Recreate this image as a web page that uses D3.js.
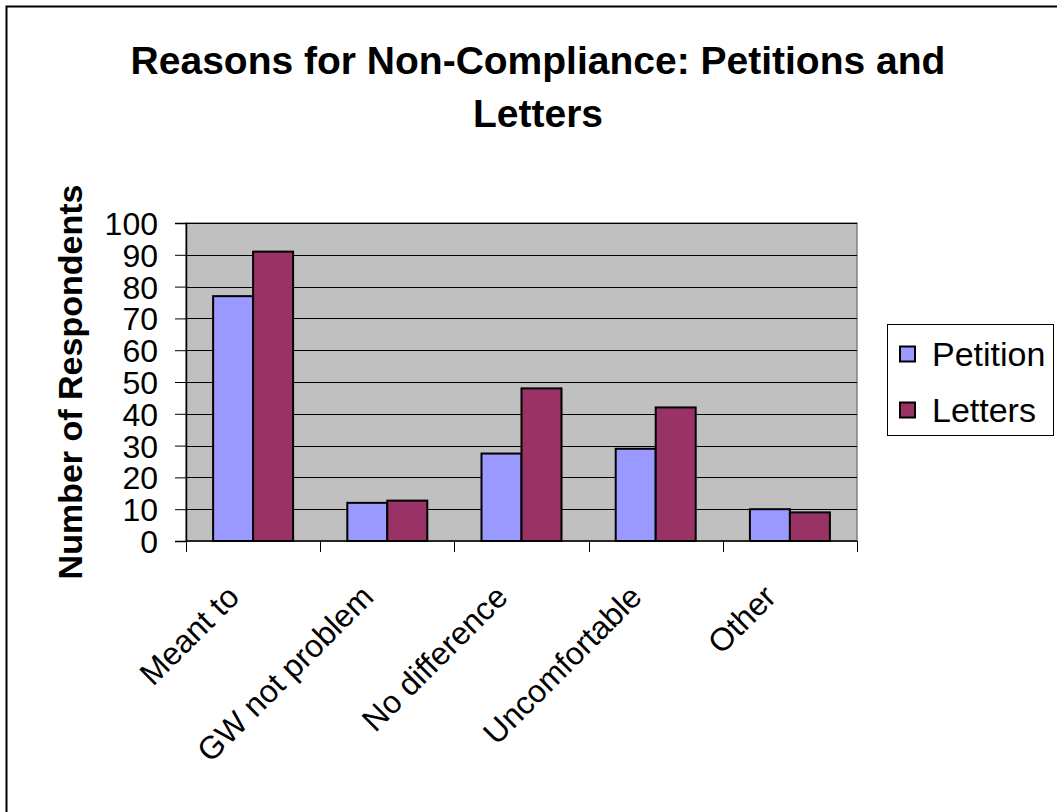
<!DOCTYPE html>
<html lang="en">
<head>
  <meta charset="UTF-8" />
  <title>Reasons for Non-Compliance</title>
  <script src="https://d3js.org/d3.v7.min.js"></script>
  <style>
    body {
      margin: 0;
      background: #fff;
      font-family: 'Liberation Sans', Arial, sans-serif;
    }
    svg { display: block; }
    .grid line { stroke: #000; stroke-width: 1px; }
    .tick-label { font-size: 32px; fill: #000; }
    .bar { stroke: #000; stroke-width: 2px; }
  </style>
</head>
<body>
  <svg id="chart" width="1057" height="812"></svg>

  <script>
    // chart data
    const categories = ["Meant to", "GW not problem", "No difference", "Uncomfortable", "Other"];
    const seriesNames = ["Petition", "Letters"];
    const petition = [77, 12, 27.5, 29, 10];
    const letters = [91, 12.7, 48, 42, 9];
    const yTicks = [0, 10, 20, 30, 40, 50, 60, 70, 80, 90, 100];
    const colors = ["#9999FF", "#993366"];

    const svg = d3.select("#chart");

    // outer chart border
    svg.append("rect")
      .attr("x", 6.5).attr("y", 6.5)
      .attr("width", 1060).attr("height", 820)
      .attr("fill", "#fff")
      .attr("stroke", "#000")
      .attr("stroke-width", 2);

    // plot area
    const plotLeft = 186, plotRight = 857, plotTop = 223, plotBottom = 541;

    const y = d3.scaleLinear().domain([0, 100]).range([plotBottom, plotTop]);
    const x0 = d3.scaleBand()
      .domain(categories)
      .range([plotLeft, plotRight])
      .paddingInner(0.404)
      .paddingOuter(0.202);
    const x1 = d3.scaleBand()
      .domain(seriesNames)
      .range([0, x0.bandwidth()]);
    const xb = d3.scaleLinear().domain([0, categories.length]).range([plotLeft, plotRight]);

    svg.append("rect")
      .attr("x", plotLeft).attr("y", plotTop)
      .attr("width", plotRight - plotLeft).attr("height", plotBottom - plotTop)
      .attr("fill", "#C0C0C0")
      .attr("stroke", "#808080")
      .attr("stroke-width", 1.5);

    // gridlines
    svg.append("g")
      .attr("class", "grid")
      .selectAll("line")
      .data(yTicks.filter(d => d > 0))
      .enter()
      .append("line")
      .attr("x1", plotLeft).attr("x2", plotRight)
      .attr("y1", d => Math.round(y(d)) + 0.5)
      .attr("y2", d => Math.round(y(d)) + 0.5);

    // bars
    const rows = categories.map((c, i) => ({ cat: c, vals: [petition[i], letters[i]] }));
    svg.append("g")
      .selectAll("g")
      .data(rows)
      .enter()
      .append("g")
      .attr("transform", d => `translate(${x0(d.cat)},0)`)
      .selectAll("rect")
      .data(d => d.vals.map((v, j) => ({ name: seriesNames[j], value: v, color: colors[j] })))
      .enter()
      .append("rect")
      .attr("class", "bar")
      .attr("x", d => x1(d.name))
      .attr("y", d => y(d.value))
      .attr("width", x1.bandwidth())
      .attr("height", d => y(0) - y(d.value))
      .attr("fill", d => d.color);

    // y axis
    const yAxis = svg.append("g")
      .attr("transform", `translate(${plotLeft},0)`)
      .call(d3.axisLeft(y).tickValues(yTicks).tickSize(11).tickPadding(17));
    yAxis.select(".domain").attr("stroke", "#000").attr("stroke-width", 1.5);
    yAxis.selectAll(".tick line").attr("stroke", "#000");
    yAxis.selectAll(".tick text")
      .attr("class", "tick-label")
      .attr("font-family", "'Liberation Sans', Arial, sans-serif")
      .attr("dy", "0.36em");

    // x axis line and category ticks
    svg.append("line")
      .attr("x1", plotLeft).attr("x2", plotRight)
      .attr("y1", plotBottom).attr("y2", plotBottom)
      .attr("stroke", "#000").attr("stroke-width", 1.5);
    svg.append("g")
      .selectAll("line")
      .data(d3.range(categories.length + 1))
      .enter()
      .append("line")
      .attr("x1", d => Math.round(xb(d)) + 0.5)
      .attr("x2", d => Math.round(xb(d)) + 0.5)
      .attr("y1", plotBottom).attr("y2", plotBottom + 11)
      .attr("stroke", "#000");

    // category labels, rotated
    svg.append("g")
      .selectAll("text")
      .data(categories)
      .enter()
      .append("text")
      .attr("class", "tick-label")
      .attr("text-anchor", "end")
      .attr("transform", d => `translate(${x0(d) + x0.bandwidth() / 2 - 12},${plotBottom + 58}) rotate(-45)`)
      .attr("font-size", 35)
      .text(d => d);

    // title
    const title = svg.append("text")
      .attr("text-anchor", "middle")
      .attr("font-weight", "bold")
      .attr("font-size", 39);
    title.append("tspan").attr("x", 538).attr("y", 74).text("Reasons for Non-Compliance: Petitions and");
    title.append("tspan").attr("x", 538).attr("y", 127).text("Letters");

    // y axis title
    svg.append("text")
      .attr("transform", `translate(82,${(plotTop + plotBottom) / 2}) rotate(-90)`)
      .attr("text-anchor", "middle")
      .attr("font-weight", "bold")
      .attr("font-size", 34)
      .text("Number of Respondents");

    // legend
    const legend = svg.append("g");
    legend.append("rect")
      .attr("x", 887.5).attr("y", 324.5)
      .attr("width", 166).attr("height", 111)
      .attr("fill", "#fff")
      .attr("stroke", "#000");
    const items = legend.selectAll("g.item")
      .data(seriesNames)
      .enter()
      .append("g")
      .attr("class", "item")
      .attr("transform", (d, i) => `translate(900,${354 + i * 56})`);
    items.append("rect")
      .attr("x", 0).attr("y", -7.5)
      .attr("width", 15).attr("height", 15)
      .attr("fill", (d, i) => colors[i])
      .attr("stroke", "#000")
      .attr("stroke-width", 2);
    items.append("text")
      .attr("x", 32)
      .attr("dy", "0.36em")
      .attr("font-size", 34)
      .text(d => d);
  </script>
</body>
</html>
